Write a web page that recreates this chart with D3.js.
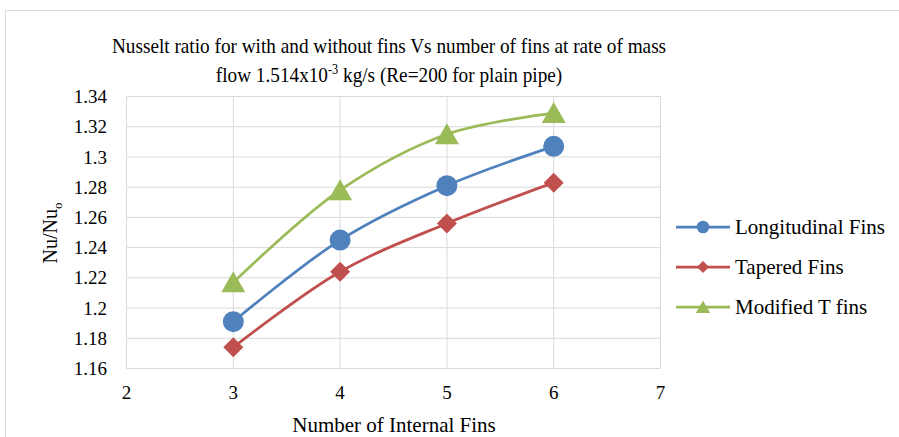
<!DOCTYPE html>
<html>
<head>
<meta charset="utf-8">
<script src="https://cdn.jsdelivr.net/npm/d3@7"></script>
<style>
  body { margin: 0; background: #fff; }
  svg { font-family: "Liberation Serif", "Times New Roman", serif; }
</style>
</head>
<body>
<div id="chart"></div>
<script>
const finCounts = [3, 4, 5, 6];
const longitudinal = [1.191, 1.245, 1.281, 1.307];
const tapered = [1.174, 1.224, 1.256, 1.283];
const modifiedT = [1.217, 1.278, 1.315, 1.329];
const seriesNames = ['Longitudinal Fins', 'Tapered Fins', 'Modified T fins'];
const xTicks = [2, 3, 4, 5, 6, 7];
const yTicks = [1.16, 1.18, 1.2, 1.22, 1.24, 1.26, 1.28, 1.3, 1.32, 1.34];

const width = 899, height = 437;
const colors = ['#4f81bd', '#c0504d', '#9bbb59'];
const shapes = ['circle', 'diamond', 'triangle'];

const series = [longitudinal, tapered, modifiedT].map((vals, i) => ({
  name: seriesNames[i],
  color: colors[i],
  shape: shapes[i],
  points: finCounts.map((f, j) => ({x: f, y: vals[j]}))
}));

const svg = d3.select('#chart')
  .append('svg')
  .attr('width', width)
  .attr('height', height);

// chart border (only top + left visible in the crop)
svg.append('path')
  .attr('d', 'M5.5,' + height + 'V10.5H' + width)
  .attr('fill', 'none')
  .attr('stroke', '#d9d9d9');

const x = d3.scaleLinear().domain([2, 7]).range([126.5, 660.5]);
const y = d3.scaleLinear().domain([1.16, 1.34]).range([368.5, 96.5]);

// gridlines
svg.append('g')
  .selectAll('line')
  .data(yTicks)
  .enter()
  .append('line')
  .attr('x1', x(2)).attr('x2', x(7))
  .attr('y1', d => y(d)).attr('y2', d => y(d))
  .attr('stroke', '#d9d9d9');

svg.append('g')
  .selectAll('line')
  .data(xTicks)
  .enter()
  .append('line')
  .attr('x1', d => x(d)).attr('x2', d => x(d))
  .attr('y1', y(1.16)).attr('y2', y(1.34))
  .attr('stroke', '#d9d9d9');

// tick labels
svg.append('g')
  .selectAll('text')
  .data(yTicks)
  .enter()
  .append('text')
  .attr('x', 107)
  .attr('y', d => y(d))
  .attr('dy', '0.35em')
  .attr('text-anchor', 'end')
  .style('font-size', '19px')
  .text(d => +d.toFixed(2));

svg.append('g')
  .selectAll('text')
  .data(xTicks)
  .enter()
  .append('text')
  .attr('x', d => x(d))
  .attr('y', 399)
  .attr('text-anchor', 'middle')
  .style('font-size', '19px')
  .text(d => d);

// axis titles
svg.append('text')
  .attr('x', 394)
  .attr('y', 432)
  .attr('text-anchor', 'middle')
  .style('font-size', '21px')
  .text('Number of Internal Fins');

const yTitle = svg.append('text')
  .attr('transform', 'translate(57,233) rotate(-90)')
  .attr('text-anchor', 'middle')
  .style('font-size', '20px');
yTitle.append('tspan').text('Nu/Nu');
yTitle.append('tspan').attr('dy', 5).style('font-size', '13px').text('o');

// title (narrow letterforms, so squeeze horizontally)
const titleG = svg.append('g')
  .attr('transform', 'translate(389,0) scale(0.875,1)');
titleG.append('text')
  .attr('x', 0).attr('y', 53)
  .attr('text-anchor', 'middle')
  .style('font-size', '22px')
  .text('Nusselt ratio for with and without fins Vs number of fins at rate of  mass');
const line2 = titleG.append('text')
  .attr('x', 0).attr('y', 82)
  .attr('text-anchor', 'middle')
  .style('font-size', '22px');
line2.append('tspan').text('flow 1.514x10');
line2.append('tspan').attr('dy', -8).style('font-size', '14px').text('-3');
line2.append('tspan').attr('dy', 8).text(' kg/s (Re=200 for plain pipe)');

// markers
function marker(sel, shape, color) {
  if (shape === 'circle') {
    sel.append('circle').attr('r', 10.5).attr('fill', color);
  } else if (shape === 'diamond') {
    sel.append('path').attr('d', 'M0,-10L10,0L0,10L-10,0Z').attr('fill', color);
  } else {
    sel.append('path').attr('d', 'M0,-11L12,10L-12,10Z').attr('fill', color);
  }
}

const line = d3.line()
  .x(d => x(d.x))
  .y(d => y(d.y))
  .curve(d3.curveCatmullRom);

series.forEach(s => {
  svg.append('path')
    .attr('d', line(s.points))
    .attr('fill', 'none')
    .attr('stroke', s.color)
    .attr('stroke-width', 2.75);

  svg.append('g')
    .selectAll('g')
    .data(s.points)
    .enter()
    .append('g')
    .attr('transform', d => `translate(${x(d.x)},${y(d.y)})`)
    .each(function () { marker(d3.select(this), s.shape, s.color); });
});

// legend
const legend = svg.append('g')
  .selectAll('g')
  .data(series)
  .enter()
  .append('g')
  .attr('transform', (d, i) => `translate(676,${227 + i * 40})`);

legend.append('line')
  .attr('x1', 0).attr('x2', 54)
  .attr('stroke', d => d.color)
  .attr('stroke-width', 2.75);

legend.each(function (d) {
  const g = d3.select(this).append('g').attr('transform', 'translate(27,0) scale(0.6)');
  marker(g, d.shape, d.color);
});

legend.append('text')
  .attr('x', 59)
  .attr('dy', '0.35em')
  .style('font-size', '21px')
  .text(d => d.name);
</script>
</body>
</html>
